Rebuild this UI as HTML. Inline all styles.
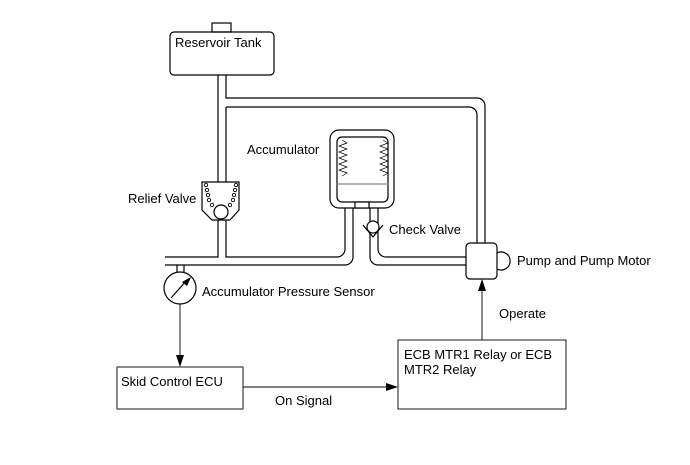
<!DOCTYPE html>
<html><head><meta charset="utf-8"><style>
html,body{margin:0;padding:0;background:#fff}
svg{display:block}
text{font-family:"Liberation Sans",Arial,sans-serif;font-size:13px;fill:#000}
</style></head><body>
<svg width="690" height="465" viewBox="0 0 690 465" xmlns="http://www.w3.org/2000/svg">
<g fill="none" stroke="#000" stroke-width="1.2">
<rect x="212" y="23" width="19" height="9"/>
<rect x="170" y="32" width="104" height="43" rx="4"/>
<path d="M218 75 V257 H165"/>
<path d="M226 75 V98 H477 a8 8 0 0 1 8 8 V243"/>
<path d="M226 220 V257 H337 a8 8 0 0 0 8 -8 V202"/>
<path d="M226 107 H469 a8 8 0 0 1 8 8 V243"/>
<path d="M226 107 V182"/>
<path d="M165 265 H345 a8 8 0 0 0 8 -8 V202"/>
<path d="M202 182 H239 V210 L230 220 H212 L202 210 Z" fill="#fff"/>
<circle cx="221" cy="212" r="7" fill="#fff"/>
<g stroke-width="0.9">
<circle cx="206" cy="185" r="1.7"/><circle cx="207" cy="190" r="1.7"/><circle cx="208" cy="195" r="1.7"/><circle cx="209" cy="200" r="1.7"/><circle cx="212" cy="205" r="1.7"/>
<circle cx="236" cy="185" r="1.7"/><circle cx="235" cy="190" r="1.7"/><circle cx="234" cy="195" r="1.7"/><circle cx="233" cy="200" r="1.7"/><circle cx="230" cy="205" r="1.7"/>
</g>
<rect x="330" y="130" width="64" height="78" rx="9" fill="#fff"/>
<rect x="337" y="137" width="51" height="65" rx="5"/>
<line x1="337" y1="184" x2="388" y2="184" stroke="#888"/>
<rect x="355" y="202" width="14" height="6" fill="#fff"/>
<path d="M342 140 l5 3 -8 3 8 3 -8 3 8 3 -8 3 8 3 -8 3 8 3 -8 3 8 3 -5 3" stroke-width="0.7"/>
<path d="M383 140 l5 3 -8 3 8 3 -8 3 8 3 -8 3 8 3 -8 3 8 3 -8 3 8 3 -5 3" stroke-width="0.7"/>
<path d="M370 208 V257 a8 8 0 0 0 8 8 H466"/>
<path d="M378 208 V249 a8 8 0 0 0 8 8 H466"/>
<circle cx="373" cy="227" r="6" fill="#fff"/>
<path d="M363 225 L373 237 L383 225"/>
<rect x="466" y="243" width="31" height="36" rx="4" fill="#fff"/>
<path d="M497 253 a9 9 0 1 1 0 16"/>
<path d="M177 265 V273 M184 265 V273"/>
<circle cx="180" cy="288" r="16" fill="#fff"/>
<line x1="171" y1="298" x2="187" y2="280"/>
<rect x="117" y="367" width="126" height="42" stroke-width="0.9"/>
<rect x="398" y="340" width="168" height="69" stroke-width="0.9"/>
<line x1="180" y1="304" x2="180" y2="356" stroke-width="0.9"/>
<line x1="243" y1="387" x2="388" y2="387" stroke-width="0.9"/>
<line x1="482" y1="340" x2="482" y2="290" stroke-width="0.9"/>
</g>
<path d="M191 277 L182 282 L187 286 Z"/>
<path d="M176 355 L184 355 L180 367 Z"/>
<path d="M386 383 L398 387 L386 391 Z"/>
<path d="M478 291 L486 291 L482 279 Z"/>
<text x="175" y="47">Reservoir Tank</text>
<text x="247" y="154">Accumulator</text>
<text x="128" y="203">Relief Valve</text>
<text x="389" y="234">Check Valve</text>
<text x="517" y="265">Pump and Pump Motor</text>
<text x="202" y="296">Accumulator Pressure Sensor</text>
<text x="499" y="318">Operate</text>
<text x="121" y="386">Skid Control ECU</text>
<text x="275" y="405">On Signal</text>
<text x="404" y="359">ECB MTR1 Relay or ECB</text>
<text x="404" y="374">MTR2 Relay</text>
</svg>
</body></html>
